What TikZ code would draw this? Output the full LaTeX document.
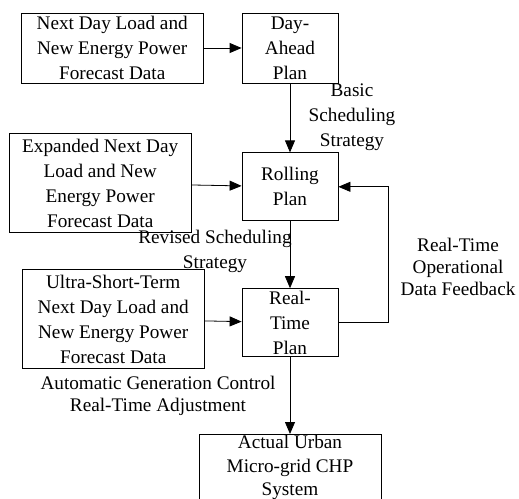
\documentclass[tikz,border=0pt]{standalone}
\usepackage{fontspec}
\setmainfont{Liberation Serif}
\usepackage{tikz}
\usetikzlibrary{positioning,arrows.meta}

\newcommand{\diagfont}{\rmfamily\fontsize{19.3}{25}\selectfont}

\tikzset{
  box/.style={draw, line width=0.8bp, align=center, inner sep=0pt,
    font=\diagfont},
  databox/.style={box, minimum width=182bp},
  planbox/.style={box, minimum width=96bp, minimum height=68bp},
  note/.style={align=center, inner sep=0pt, font=\diagfont},
  arr/.style={-{Triangle[length=12bp,width=10bp]}, line width=0.8bp}
}

\begin{document}
\begin{tikzpicture}[x=1bp, y=-1bp]
  \useasboundingbox (0,0) rectangle (519,499);

  % Define nodes
  \node[planbox, minimum height=70bp] (dayahead) at (290,48) {Day-\\Ahead\\Plan};
  \node[databox, minimum height=70bp, left=38bp of dayahead] (data1) {Next Day Load and\\New Energy Power\\Forecast Data};
  \node[planbox, below=69bp of dayahead] (rolling) {Rolling\\Plan};
  \node[databox, minimum height=99bp, left=50bp of rolling, yshift=3.5bp] (data2) {Expanded Next Day\\Load and New\\Energy Power\\Forecast Data};
  \node[planbox, below=67bp of rolling] (realtime) {Real-\\Time\\Plan};
  \node[databox, minimum height=99bp, left=37bp of realtime, yshift=3.5bp] (data3) {Ultra-Short-Term\\Next Day Load and\\New Energy Power\\Forecast Data};
  \node[databox, minimum height=70bp, below=77bp of realtime, text depth=8bp,
    font=\rmfamily\fontsize{19.3}{24}\selectfont] (actual) {Actual Urban\\Micro-grid CHP\\System};

  % Labels
  \node[note] (basic) at (352,117) {Basic\\Scheduling\\Strategy};
  \node[note] (revised) at (215,251) {Revised Scheduling\\Strategy};
  \node[note, font=\rmfamily\fontsize{19.3}{22}\selectfont] (feedback) at (458,267) {Real-Time\\Operational\\Data Feedback};
  \node[note, font=\rmfamily\fontsize{19.3}{22}\selectfont] (agc) at (158,396) {Automatic Generation Control\\Real-Time Adjustment};

  % Connect the nodes
  \draw[arr] (data1) -- (dayahead);
  \draw[arr] (dayahead) -- (rolling);
  \draw[arr] (data2) -- (rolling);
  \draw[arr] (rolling) -- (realtime);
  \draw[arr] (data3) -- (realtime);
  \draw[arr] (realtime) -- (actual);
  \draw[arr] (realtime.east) -- ++(50,0) |- (rolling.east);

\end{tikzpicture}
\end{document}
